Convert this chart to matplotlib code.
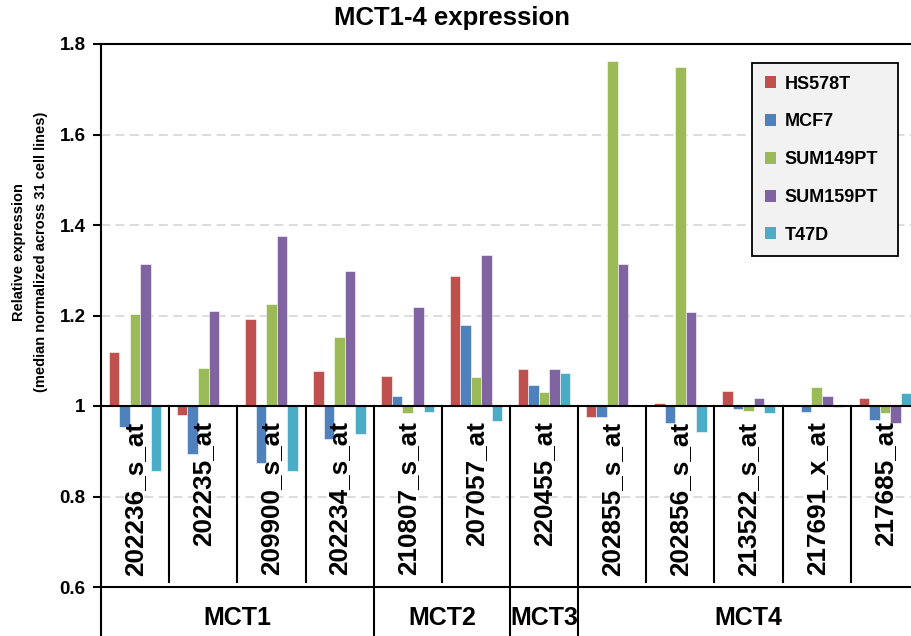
import matplotlib
matplotlib.use("Agg")
import matplotlib.pyplot as plt
from matplotlib.patches import Patch
import numpy as np

# ----------------------
# DATA
# ----------------------

probes = ["202236_s_at", "202235_at", "209900_s_at", "202234_s_at",
          "210807_s_at", "207057_at", "220455_at",
          "202855_s_at", "202856_s_at", "213522_s_at", "217691_x_at", "217685_at"]

groups = ["MCT1", "MCT2", "MCT3", "MCT4"]
group_sizes = [4, 2, 1, 5]

cell_lines = ["HS578T", "MCF7", "SUM149PT", "SUM159PT", "T47D"]

hs578t = [1.120, 0.980, 1.192, 1.078, 1.066, 1.287, 1.081, 0.975, 1.007, 1.033, 0.999, 1.017]
mcf7 = [0.954, 0.894, 0.873, 0.926, 1.023, 1.180, 1.046, 0.975, 0.963, 0.994, 0.987, 0.969]
sum149pt = [1.203, 1.083, 1.225, 1.152, 0.985, 1.064, 1.031, 1.762, 1.749, 0.990, 1.043, 0.985]
sum159pt = [1.314, 1.211, 1.376, 1.298, 1.219, 1.333, 1.082, 1.314, 1.208, 1.018, 1.022, 0.963]
t47d = [0.856, 1.000, 0.857, 0.938, 0.986, 0.966, 1.074, 1.000, 0.942, 0.985, 0.997, 1.029]

series = [hs578t, mcf7, sum149pt, sum159pt, t47d]
colors = ["#c0504d", "#4f81bd", "#9bbb59", "#8064a2", "#4bacc6"]

yticks = [0.6, 0.8, 1.0, 1.2, 1.4, 1.6, 1.8]
ytick_labels = ["0.6", "0.8", "1", "1.2", "1.4", "1.6", "1.8"]

# ----------------------
# FIGURE
# ----------------------

plt.rcParams["font.family"] = ["Liberation Sans", "DejaVu Sans"]
plt.rcParams["font.weight"] = "bold"

W, H = 911, 636
fig = plt.figure(figsize=(W / 100, H / 100), dpi=100)
ax = fig.add_axes([101 / W, 49 / H, 818 / W, 543 / H])

n = len(probes)
x = np.arange(n) + 0.5
bw = 0.155

for i, (vals, c) in enumerate(zip(series, colors)):
    vals = np.array(vals)
    ax.bar(x + (i - 2) * bw, vals - 1.0, bottom=1.0, width=bw, color=c,
           edgecolor="white", linewidth=0.4, zorder=3)

ax.set_xlim(0, n)
ax.set_ylim(0.6, 1.8)

# grid
for g in [0.8, 1.2, 1.4, 1.6]:
    ax.axhline(g, color="#d9d9d9", lw=1.3, ls=(0, (5, 3)), zorder=1)
ax.axhline(1.0, color="black", lw=1.5, zorder=4)

ax.set_yticks(yticks)
ax.set_yticklabels(ytick_labels, fontsize=13.5, fontweight="bold")
ax.tick_params(axis="y", direction="out", length=6, width=1.5, pad=5)
ax.set_xticks([])

for s in ["left", "top", "bottom"]:
    ax.spines[s].set_linewidth(1.5)
ax.spines["right"].set_visible(False)

# separators and category labels
bounds = np.cumsum(group_sizes)[:-1]
for b in range(1, n):
    if b in bounds:
        ax.plot([b, b], [1.0, 0.49], color="black", lw=1.5, clip_on=False, zorder=4)
    else:
        ax.plot([b, b], [1.0, 0.61], color="black", lw=1.5, clip_on=False, zorder=4)
ax.plot([0, 0], [0.6, 0.49], color="black", lw=1.5, clip_on=False)

for xi, lab in zip(x, probes):
    ax.text(xi, 0.966, lab, rotation=90, ha="center", va="top",
            fontsize=18.8, fontweight="bold", zorder=5)

start = 0
for g, size in zip(groups, group_sizes):
    ax.text(start + size / 2, 0.531, g, ha="center", va="center",
            fontsize=18, fontweight="bold", clip_on=False)
    start += size

# titles
fig.text(452 / W, 1 - 18 / H, "MCT1-4 expression", ha="center", va="center",
         fontsize=18.5, fontweight="bold")
fig.text(30 / W, 1 - 252 / H,
         "Relative expression\n(median normalized across 31 cell lines)",
         rotation=90, ha="center", va="center", fontsize=10.5,
         fontweight="bold", linespacing=1.7, multialignment="center")

# legend
handles = [Patch(facecolor=c, edgecolor="none") for c in colors]
leg = fig.legend(handles, cell_lines, loc="upper left",
                 bbox_to_anchor=(752 / W, 1 - 63 / H, 146 / W, 0.0),
                 mode="expand", borderaxespad=0,
                 prop={"weight": "bold", "size": 13},
                 handlelength=0.65, handleheight=0.65, handletextpad=0.45,
                 labelspacing=1.15, borderpad=0.7, fancybox=False, framealpha=1)
leg.get_frame().set_facecolor("#f2f2f2")
leg.get_frame().set_edgecolor("black")
leg.get_frame().set_linewidth(1.3)

fig.savefig("out.png", dpi=100)
